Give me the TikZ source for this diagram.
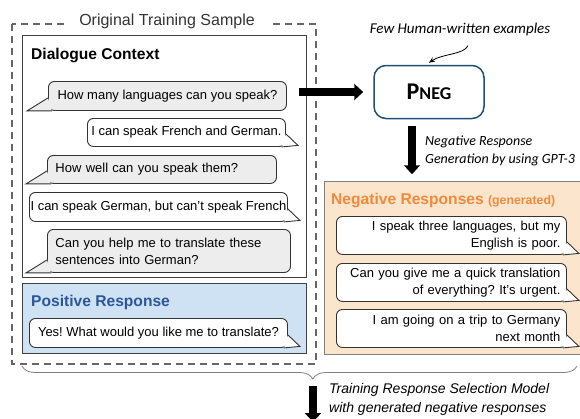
\documentclass[tikz,border=0pt]{standalone}
\usepackage{fontspec}
\setmainfont{Liberation Sans}
\newfontfamily\calfont{Carlito}
\usetikzlibrary{arrows.meta,calc,decorations.pathreplacing,positioning}

\definecolor{bubgray}{HTML}{EDEDED}
\definecolor{bubline}{HTML}{333333}
\definecolor{boxline}{HTML}{404040}
\definecolor{posfill}{HTML}{CFE2F3}
\definecolor{posblue}{HTML}{2B579A}
\definecolor{negfill}{HTML}{FCE5CD}
\definecolor{negline}{HTML}{7F7F7F}
\definecolor{negorange}{HTML}{F08A3C}
\definecolor{pnegblue}{HTML}{1F4E79}
\definecolor{dashgray}{HTML}{666666}

\begin{document}
\frenchspacing
\begin{tikzpicture}[x=1bp,y=-1bp]
\tikzstyle{bubble}=[draw=bubline, line width=0.9bp, rounded corners=6bp, fill=white, anchor=north west, inner xsep=8bp, inner ysep=0pt, font=\fontsize{13bp}{17bp}\selectfont]
\tikzstyle{graybub}=[bubble, fill=bubgray]
\tikzstyle{genbub}=[bubble, inner xsep=6bp, text width=218bp, align=right, minimum height=38bp]
\tikzstyle{bubtail}=[draw=bubline, line width=0.9bp, miter limit=20]
\tikzstyle{bigbox}=[draw=boxline, line width=1bp, anchor=north west, inner sep=0pt]
\tikzstyle{boxhead}=[anchor=base west, inner sep=0pt, font=\bfseries\fontsize{15.6bp}{18bp}\selectfont]
\tikzstyle{fatarrow}=[line width=7.5bp, -{Triangle[length=9bp,width=16bp]}]
\tikzstyle{note}=[inner sep=0pt, align=left, anchor=north west]

\useasboundingbox (0,0) rectangle (580,418);

% original sample frame
\draw[dashgray, line width=1.3bp, dash pattern=on 7bp off 5bp] (12,24) rectangle (316,364);
\node[fill=white, inner xsep=14bp, inner ysep=3bp, anchor=base, text=bubline,
  font=\fontsize{16bp}{18bp}\selectfont] (sample) at (167,25.5) {Original Training Sample};

% boxes
\node[bigbox, minimum width=284bp, minimum height=242bp] (ctx) at (22,35) {};
\node[bigbox, fill=posfill, minimum width=284bp, minimum height=70bp] (posbox) at (22,283) {};
\node[bigbox, draw=negline, fill=negfill, minimum width=262bp, minimum height=173bp] (negbox) at (324,181) {};

\node[boxhead] (ctxhead) at (31,59) {Dialogue Context};
\node[boxhead, text=posblue] (poshead) at (31,306) {Positive Response};
\node[boxhead, text=negorange] (neghead) at (331,204) {Negative Responses {\fontsize{12.3bp}{14bp}\selectfont(generated)}};

% dialogue turns
\node[graybub, minimum width=238bp, minimum height=29bp] (b1) at (48,81) {How many languages can you speak?};
\node[bubble, inner xsep=3bp, minimum width=198bp, minimum height=28bp] (b2) at (87,118) {I can speak French and German.};
\node[graybub, text width=213bp, align=left, minimum height=28bp] (b3) at (47,155) {How well can you speak them?};
\node[bubble, inner xsep=0pt, minimum width=258bp, minimum height=29bp] (b4) at (29,192) {I can speak German, but can't speak French};
\node[graybub, text width=227bp, align=left, minimum height=43bp] (b5) at (47,229) {Can you help me to translate these\\sentences into German?};
\node[bubble, minimum width=258bp, minimum height=29bp] (pr) at (29,318) {Yes! What would you like me to translate?};

% generated turns
\node[genbub] (n1) at (336,216) {I speak three languages, but my\\English is poor.};
\node[genbub] (n2) at (336,263) {Can you give me a quick translation\\of everything? It's urgent.};
\node[genbub] (n3) at (336,309) {I am going on a trip to Germany\\next month};

\foreach \b in {b1,b3,b5}
  \filldraw[bubtail, fill=bubgray] ([yshift=13bp]\b.south west) -- ([xshift=-21bp]\b.south west) -- ([xshift=4bp]\b.south west);
\foreach \b in {b2,b4,pr,n1,n2,n3}
  \filldraw[bubtail, fill=white] ([yshift=13bp]\b.south east) -- ([xshift=12bp,yshift=1.5bp]\b.south east) -- ([xshift=-4bp]\b.south east);

% generator
\node[draw=pnegblue, line width=1.5bp, rounded corners=12bp, minimum width=110bp, minimum height=53bp] (pneg) at (429,92)
  {\calfont\bfseries\fontsize{24bp}{24bp}\selectfont P\fontsize{18bp}{18bp}\selectfont NEG};
\node[anchor=base, inner sep=0pt, font=\calfont\itshape\fontsize{15bp}{18bp}\selectfont] (fewshot) at (460,33) {Few Human-written examples};
\draw[-{Stealth[length=6bp,width=5bp]}, line width=0.8bp] ($(fewshot.south)+(8,10)$) .. controls +(-4,9) and +(13,-9) .. ([yshift=2bp]pneg.north);

\draw[fatarrow] ($(ctx.east |- pneg.west)+(-8,0)$) -- ($(pneg.west)+(-10,0)$);
\draw[fatarrow] ($(pneg.south)+(-17,7)$) -- ++(0,48);
\node[note, font=\calfont\itshape\fontsize{14bp}{18bp}\selectfont] (genlabel) at (425,136) {Negative Response\\Generation by using GPT-3};

% training step
\draw[decorate, decoration={brace, amplitude=13bp, mirror, aspect=0.524}, draw=negline, line width=0.8bp] (22,366) -- (577,366);
\coordinate (trainstart) at (313,386);
\coordinate (trainend) at (313,422);
\draw[fatarrow] (trainstart) -- (trainend);
\node[note, font=\itshape\fontsize{14bp}{19bp}\selectfont] (trainlabel) at (329,383) {Training Response Selection Model\\with generated negative responses};
\end{tikzpicture}
\end{document}
